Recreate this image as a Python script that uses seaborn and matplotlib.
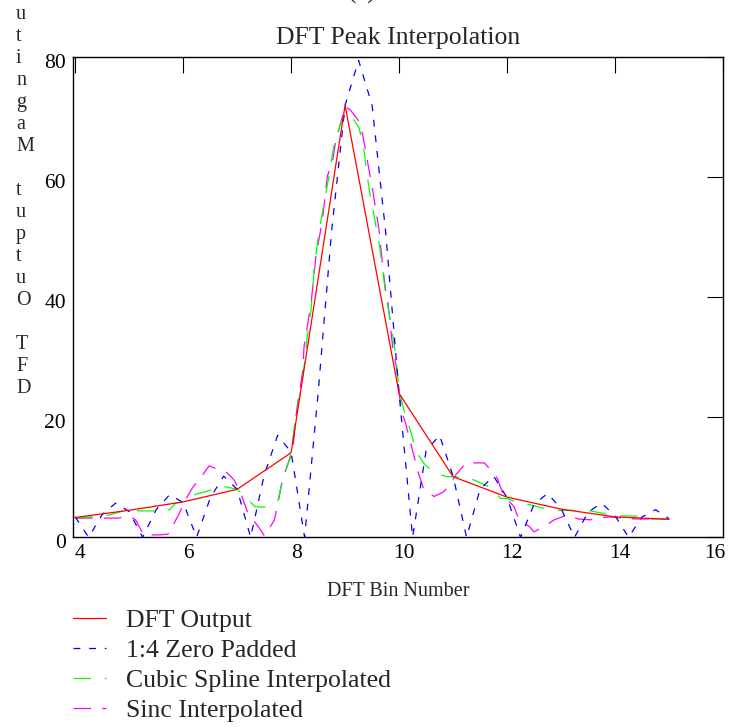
import numpy as np
import pandas as pd
import matplotlib
matplotlib.use("Agg")
import matplotlib.pyplot as plt
import seaborn as sns
from matplotlib.transforms import ScaledTranslation

# ---------------- data ----------------
dft_bins = [4, 5, 6, 7, 8, 9, 10, 11, 12, 13, 14, 15]
dft_mag = [3.3, 4.5, 5.9, 8.0, 14.1, 72.0, 24.0, 10.1, 6.7, 4.7, 3.4, 3.0]

zp_bins = np.arange(4.0, 15.01, 0.25)
zp_mag = [3.4, 0.0, 3.8, 5.7, 4.3, 0.0, 4.6, 7.1, 5.8, 0.0, 6.5, 10.2,
          8.0, 0.0, 10.3, 17.0, 14.2, 0.0, 24.0, 51.0, 72.0, 79.5, 72.0, 51.0,
          24.0, 0.0, 14.4, 17.0, 10.2, 0.0, 8.0, 10.2, 6.6, 0.0, 5.5, 7.3,
          4.8, 0.0, 4.2, 5.7, 3.6, 0.0, 3.4, 4.6, 3.1]

spline_x = [4.00, 4.30, 4.63, 4.85, 5.00, 5.20, 5.65, 5.75, 5.86, 6.00, 6.24, 6.42,
            6.66, 6.80, 7.00, 7.15, 7.33, 7.57, 7.76, 7.84, 7.93, 8.00, 8.09, 8.18,
            8.24, 8.30, 8.37, 8.43, 8.52, 8.61, 8.70, 8.80, 8.92, 9.01, 9.10, 9.26,
            9.35, 9.41, 9.48, 9.54, 9.63, 9.69, 9.75, 9.85, 9.94, 10.00, 10.09, 10.22,
            10.31, 10.46, 10.65, 10.90, 11.05, 11.39, 11.67, 11.88, 12.00, 12.16, 12.44,
            12.69, 12.93, 13.27, 13.55, 13.83, 14.04, 14.38, 14.60, 15.00]
spline_y = [3.2, 3.4, 3.7, 4.3, 4.5, 4.4, 4.4, 4.6, 5.7, 5.9, 7.2, 7.6,
            8.4, 8.4, 8.0, 6.8, 5.1, 5.0, 6.2, 9.6, 11.8, 14.1, 20.5, 24.5,
            28.4, 33.5, 38.0, 45.0, 51.2, 55.7, 60.1, 65.7, 69.0, 70.7, 70.5, 68.2,
            64.5, 60.1, 56.2, 53.4, 49.0, 45.1, 40.5, 35.7, 30.1, 24.5, 21.2, 17.5,
            14.4, 12.3, 10.7, 10.1, 10.1, 9.55, 8.4, 6.5, 6.5, 5.9, 5.4,
            4.8, 4.5, 4.5, 4.4, 3.9, 3.55, 3.55, 3.05, 3.05]

sinc_x = [4.00, 4.33, 4.57, 4.81, 4.90, 5.05, 5.12, 5.22, 5.27, 5.55, 5.70, 5.77,
          5.80, 5.93, 6.02, 6.17, 6.36, 6.48, 6.60, 6.82, 6.94, 7.07, 7.20, 7.39,
          7.51, 7.69, 7.78, 7.84, 7.93, 8.03, 8.09, 8.12, 8.21, 8.24, 8.30, 8.37,
          8.46, 8.58, 8.67, 8.77, 8.83, 8.95, 9.01, 9.10, 9.26, 9.32, 9.38, 9.41,
          9.51, 9.57, 9.63, 9.69, 9.75, 9.78, 9.88, 9.97, 10.00, 10.06, 10.12, 10.28,
          10.34, 10.40, 10.46, 10.65, 10.83, 10.99, 11.05, 11.24, 11.58, 11.73, 11.82,
          11.91, 12.00, 12.13, 12.22, 12.41, 12.50, 12.69, 12.87, 13.11, 13.32, 13.55,
          13.61, 13.92, 14.23, 14.50, 15.00]
sinc_y = [3.2, 3.2, 3.2, 3.2, 3.4, 3.3, 2.9, 1.2, 0.4, 0.4, 0.5, 0.8,
          1.8, 4.0, 5.9, 8.2, 10.4, 11.9, 11.5, 10.7, 9.6, 7.3, 4.0, 1.8,
          0.2, 2.9, 6.8, 9.6, 12.0, 14.3, 20.1, 22.3, 27.3, 31.8, 35.1, 39.0,
          46.8, 52.9, 60.1, 62.9, 66.2, 70.1, 71.8, 71.2, 69.3, 67.3, 64.5, 62.9,
          57.9, 54.5, 51.2, 45.7, 41.2, 40.2, 31.8, 27.3, 24.0, 20.7, 19.0, 13.4,
          11.2, 9.55, 7.9, 6.8, 7.6, 9.55, 10.4, 12.4, 12.4, 10.9, 9.8,
          7.6, 6.4, 5.1, 2.9, 1.8, 0.9, 1.8, 2.9, 3.7, 3.05, 2.9,
          3.2, 3.4, 3.1, 3.05, 3.05]

series_labels = ["DFT Output", "1:4 Zero Padded",
                 "Cubic Spline Interpolated", "Sinc Interpolated"]
x_ticks = [4, 6, 8, 10, 12, 14, 16]
y_ticks = [0, 20, 40, 60, 80]

# ---------------- style ----------------
sns.set_theme(style="white")
plt.rcParams["font.family"] = ["Liberation Serif", "DejaVu Serif"]
plt.rcParams["axes.edgecolor"] = "black"

W, H = 731, 727
fig = plt.figure(figsize=(W / 100, H / 100), dpi=100)
ax = fig.add_axes([73 / W, 1 - 537.3 / H, (723 - 73) / W, (537.3 - 57.3) / H])

df_dft = pd.DataFrame({"bin": dft_bins, "mag": dft_mag})
df_zp = pd.DataFrame({"bin": zp_bins, "mag": zp_mag})
df_sp = pd.DataFrame({"bin": spline_x, "mag": spline_y})
df_sc = pd.DataFrame({"bin": sinc_x, "mag": sinc_y})

LW = 0.9
sns.lineplot(data=df_sc, x="bin", y="mag", ax=ax, color="#ff00ff", lw=LW,
             linestyle=(0, (14, 9)), label=series_labels[3])
sns.lineplot(data=df_sp, x="bin", y="mag", ax=ax, color="#00ff00", lw=LW,
             linestyle=(0, (14, 11)), label=series_labels[2])
sns.lineplot(data=df_zp, x="bin", y="mag", ax=ax, color="#0000ff", lw=LW,
             linestyle=(0, (5.5, 7)), label=series_labels[1])
sns.lineplot(data=df_dft, x="bin", y="mag", ax=ax, color="#ff0000", lw=LW,
             label=series_labels[0])

ax.set_xlim(3.96, 16)
ax.set_ylim(0, 80)
ax.set_xticks(x_ticks)
ax.set_yticks(y_ticks)
ax.set_xticklabels([str(t) for t in x_ticks])
ax.set_yticklabels([str(t) for t in y_ticks])
ax.set_xlabel("")
ax.set_ylabel("")
ax.tick_params(direction="in", length=11.5, width=0.8, color="black",
               top=True, right=True, labelsize=15.5, pad=5, labelcolor="black")
for sp in ax.spines.values():
    sp.set_visible(True)
    sp.set_color("black")
    sp.set_linewidth(1.0)

# tick label offsets (labels sit slightly right / below their ticks)
for lbl in ax.get_xticklabels():
    dx = -8 if lbl.get_text() == "16" else 5
    lbl.set_transform(lbl.get_transform() + ScaledTranslation(dx / 100, 0, fig.dpi_scale_trans))
for lbl in ax.get_yticklabels():
    lbl.set_transform(lbl.get_transform() + ScaledTranslation(0, -4 / 100, fig.dpi_scale_trans))

# legend
handles, labels = ax.get_legend_handles_labels()
order = [labels.index(l) for l in series_labels]
ax.legend([handles[i] for i in order], [labels[i] for i in order],
          loc="upper left", bbox_to_anchor=(73 / W, 1 - 609 / H),
          bbox_transform=fig.transFigure, frameon=False, fontsize=18.5,
          handlelength=1.28, handletextpad=0.8, labelspacing=0.27,
          borderaxespad=0, borderpad=0)

# texts
fig.text(362 / W, 1 + 1 / H, "(a)", ha="center", va="baseline", fontsize=18.5)
fig.text(398 / W, 1 - 44 / H, "DFT Peak Interpolation", ha="center",
         va="baseline", fontsize=18.5)
fig.text(398 / W, 1 - 596 / H, "DFT Bin Number", ha="center", va="baseline",
         fontsize=14.5)
ylab = "DFT Output Magnitu"   # the top of the stacked label runs off the figure
for i, ch in enumerate(ylab):
    fig.text(16 / W, 1 - (393 - 22 * i) / H, ch, ha="left", va="baseline",
             fontsize=14.5)

fig.savefig("out.png", dpi=100)
